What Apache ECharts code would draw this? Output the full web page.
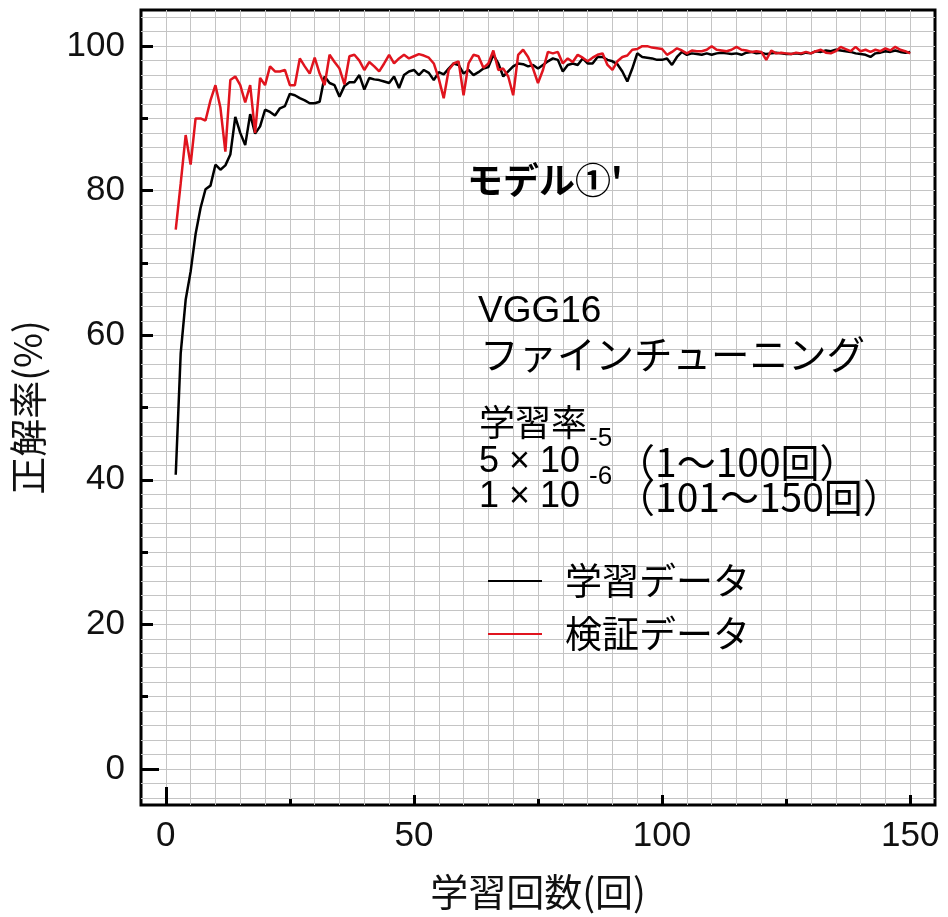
<!DOCTYPE html>
<html>
<head>
<meta charset="utf-8">
<script src="https://cdn.jsdelivr.net/npm/echarts@6/dist/echarts.min.js"></script>
<style>html,body{margin:0;padding:0;background:#fff;}#c{width:948px;height:917px;}</style>
</head>
<body>
<div id="c"></div>
<script>
// epochs 2..150
const firstEpoch = 2;
const trainAcc = [
40.7,57.5,64.9,68.8,74.0,77.6,80.2,80.7,83.6,82.9,
83.5,85.0,90.2,88.0,86.3,90.6,87.9,88.9,91.2,90.9,
90.4,91.4,91.7,93.4,93.2,92.8,92.5,92.1,92.1,92.3,
95.8,94.9,94.6,93.0,94.5,95.0,95.0,96.0,94.0,95.6,
95.4,95.3,95.1,94.9,95.8,94.2,96.0,96.5,96.7,96.0,
96.7,96.3,95.3,96.4,96.1,96.9,97.6,97.4,96.2,96.7,
96.0,96.4,96.9,97.1,98.8,97.6,95.8,96.5,97.2,97.6,
97.5,97.2,97.4,96.9,97.4,97.9,98.3,98.1,96.5,97.4,
97.6,97.4,98.3,97.6,97.6,98.5,98.5,98.1,97.9,97.5,
96.5,95.1,96.9,99.0,98.5,98.4,98.3,98.1,98.1,98.3,
97.4,98.5,99.2,98.8,99.0,98.9,98.8,99.0,98.8,99.0,
99.1,99.0,98.9,99.0,98.8,99.1,99.2,99.0,99.1,98.9,
99.0,99.1,99.0,98.9,98.9,99.0,98.9,99.1,99.0,99.3,
99.2,99.4,99.3,99.5,99.4,99.3,99.2,99.0,98.9,98.8,
98.5,99.0,99.1,99.3,99.2,99.4,99.2,99.1,99.2
];
const valAcc = [
74.6,81.0,87.7,83.6,90.0,90.0,89.7,92.5,94.6,91.5,
85.4,95.3,95.8,94.6,92.2,94.6,88.0,95.6,94.6,97.2,
96.5,96.5,96.7,94.6,94.6,98.3,97.2,96.2,98.4,96.2,
94.6,98.8,97.8,96.9,94.7,98.6,98.8,98.0,96.7,97.8,
97.2,96.5,97.6,98.8,97.6,98.3,98.8,98.3,98.6,98.9,
98.7,98.4,97.6,95.5,92.8,96.7,97.6,97.9,93.2,97.6,
98.8,98.6,97.0,97.6,99.4,96.7,96.9,95.8,93.2,98.8,
99.5,98.5,96.9,94.9,96.7,99.2,99.0,99.2,97.6,98.3,
97.8,98.8,98.4,97.9,98.4,98.8,99.0,97.4,96.7,97.9,
98.5,98.7,99.5,99.6,100.0,100.0,99.8,99.7,99.6,98.8,
99.2,99.7,99.4,99.0,99.4,99.3,99.3,99.5,100.0,99.5,
99.4,99.3,99.5,99.9,99.5,99.4,99.2,99.3,99.2,98.1,
99.4,99.0,99.1,99.0,98.9,99.1,99.0,99.2,99.0,99.3,
99.5,99.1,99.0,99.3,99.9,99.6,99.3,99.9,99.3,99.5,
99.2,99.5,99.3,99.7,99.4,99.9,99.5,99.3,99.0
];
const xLabelTicks = [0, 50, 100, 150];
const xMajorTicks = [50, 100, 150];
const xMinorTicks = [25, 75, 125];
const yLabelTicks = [0, 20, 40, 60, 80, 100];
const yMajorTicks = [20, 40, 60, 80, 100];
const yMinorTicks = [10, 30, 50, 70, 90];
const seriesNames = ['学習データ', '検証データ'];

const toPairs = arr => arr.map((v, i) => [firstEpoch + i, v]);

const LAT = '"Liberation Sans", "Noto Sans CJK JP", sans-serif';
const CJK = '"Noto Sans CJK JP", "Liberation Sans", sans-serif';
const GRIDC = '#c4c4c4';

const chart = echarts.init(document.getElementById('c'), null, {renderer: 'canvas'});
const X = {min: -5, max: 155};
const Y = {min: -5, max: 105};
const tickStyle = {color: '#000', width: 3};
const noLine = {show: false, onZero: false};

function txt(x, y, text, size, family, weight) {
  return {type: 'text', x: x, y: y, z: 10,
    style: {text: text, fontSize: size, fontFamily: family, fontWeight: weight || 'normal',
            fill: '#000', verticalAlign: 'middle', align: 'left'}};
}

chart.setOption({
  animation: false,
  backgroundColor: '#fff',
  grid: [
    {left: 141, top: 10, width: 794, height: 795, show: true, borderColor: '#000', borderWidth: 3, backgroundColor: 'transparent', containLabel: false},
    {left: 141, top: 10 + 795 / 110, width: 794, height: 795 * 108 / 110, show: false, containLabel: false}
  ],
  legend: {
    data: seriesNames, orient: 'vertical', left: 488, top: 561, padding: 0,
    icon: 'rect', itemWidth: 54, itemHeight: 2, itemGap: 13,
    textStyle: {fontFamily: CJK, fontSize: 37, color: '#000', lineHeight: 40, padding: [0, 0, 0, 18]}
  },
  xAxis: [
    {type: 'value', gridIndex: 0, min: X.min, max: X.max, interval: 5, position: 'bottom',
     axisLine: noLine, axisTick: {show: false}, axisLabel: {show: false},
     splitLine: {show: true, showMinLine: false, showMaxLine: false, lineStyle: {color: GRIDC, width: 1}}},
    {type: 'value', gridIndex: 0, min: X.min, max: X.max, position: 'bottom',
     axisLine: noLine,
     axisTick: {show: true, inside: true, length: 10, customValues: xMajorTicks, lineStyle: tickStyle},
     axisLabel: {show: true, customValues: xLabelTicks, margin: 14, fontFamily: LAT, fontSize: 35, color: '#111'},
     splitLine: {show: false},
     name: '学習回数(回)', nameLocation: 'middle', nameGap: 68,
     nameTextStyle: {fontFamily: CJK, fontSize: 38, color: '#111'}},
    {type: 'value', gridIndex: 0, min: X.min, max: X.max, position: 'bottom',
     axisLine: noLine, axisLabel: {show: false}, splitLine: {show: false},
     axisTick: {show: true, inside: true, length: 6, customValues: xMinorTicks, lineStyle: tickStyle}},
    {type: 'value', gridIndex: 0, min: X.min, max: X.max, position: 'bottom',
     axisLine: noLine, axisLabel: {show: false}, splitLine: {show: false},
     axisTick: {show: true, inside: true, length: 18, customValues: [0], lineStyle: tickStyle}},
    {type: 'value', gridIndex: 1, min: X.min, max: X.max, show: false}
  ],
  yAxis: [
    {type: 'value', gridIndex: 0, min: Y.min, max: Y.max, position: 'left',
     axisLine: noLine, splitLine: {show: false},
     axisTick: {show: true, inside: true, length: 12, customValues: yMajorTicks, lineStyle: tickStyle},
     axisLabel: {show: true, customValues: yLabelTicks, margin: 16, fontFamily: LAT, fontSize: 35, color: '#111'},
     name: '正解率(%)', nameLocation: 'middle', nameGap: 94,
     nameTextStyle: {fontFamily: CJK, fontSize: 38, color: '#111'}},
    {type: 'value', gridIndex: 0, min: Y.min, max: Y.max, position: 'left',
     axisLine: noLine, axisLabel: {show: false}, splitLine: {show: false},
     axisTick: {show: true, inside: true, length: 7, customValues: yMinorTicks, lineStyle: tickStyle}},
    {type: 'value', gridIndex: 0, min: Y.min, max: Y.max, position: 'left',
     axisLine: noLine, axisLabel: {show: false}, splitLine: {show: false},
     axisTick: {show: true, inside: true, length: 18, customValues: [0], lineStyle: tickStyle}},
    {type: 'value', gridIndex: 1, min: -4, max: 104, interval: 2, position: 'left',
     axisLine: noLine, axisTick: {show: false}, axisLabel: {show: false},
     splitLine: {show: true, lineStyle: {color: GRIDC, width: 1}}}
  ],
  series: [
    {name: seriesNames[0], type: 'line', xAxisIndex: 0, yAxisIndex: 0, data: toPairs(trainAcc),
     symbol: 'none', lineStyle: {color: '#000', width: 2.5}, itemStyle: {color: '#000'}, z: 3},
    {name: seriesNames[1], type: 'line', xAxisIndex: 0, yAxisIndex: 0, data: toPairs(valAcc),
     symbol: 'none', lineStyle: {color: '#e0141e', width: 2.5}, itemStyle: {color: '#e0141e'}, z: 4}
  ],
  graphic: [
    txt(467, 180, 'モデル①\'', 36, CJK, 'bold'),
    txt(478, 312, 'VGG16', 37, LAT),
    txt(480, 354, 'ファインチューニング', 38.5, CJK),
    txt(479, 422, '学習率', 36, CJK),
    txt(479, 462, '5 × 10', 36, LAT),
    txt(589, 439, '-5', 26, LAT),
    txt(616, 462, '（1～100回）', 39, CJK),
    txt(479, 497, '1 × 10', 36, LAT),
    txt(589, 477, '-6', 26, LAT),
    txt(616, 497, '（101～150回）', 39, CJK)
  ]
});
</script>
</body>
</html>
